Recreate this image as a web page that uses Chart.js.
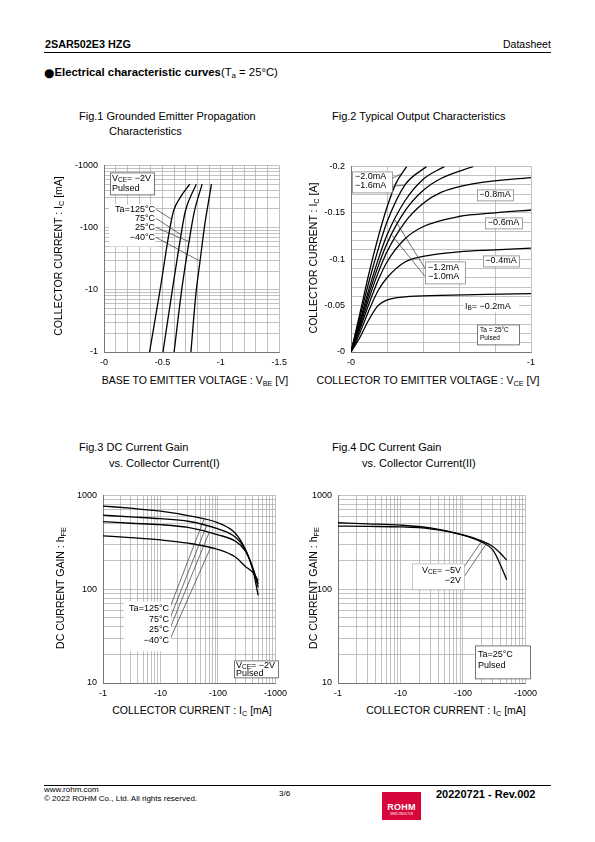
<!DOCTYPE html>
<html>
<head>
<meta charset="utf-8">
<script src="https://cdn.jsdelivr.net/npm/chart.js@4.4.1/dist/chart.umd.min.js"></script>
<style>
  body { margin: 0; background: #fff; font-family: "Liberation Sans", Arial, sans-serif; color: #000; }
  #page { position: relative; width: 595px; height: 842px; overflow: hidden; }
  .t { position: absolute; white-space: nowrap; line-height: 1; }
  .t sub { font-size: 70%; vertical-align: -2px; line-height: 0; }
  .yt { position: absolute; white-space: nowrap; line-height: 1; font-size: 10.5px;
        transform: translate(-50%, -50%) rotate(-90deg); }
  .xt { position: absolute; white-space: nowrap; line-height: 1; font-size: 10.5px; transform: translateX(-50%); }
  .xt sub, .yt sub { font-size: 70%; vertical-align: -2px; line-height: 0; }
  canvas { position: absolute; }
</style>
</head>
<body>
<div id="page">
  <div class="t" style="left:45px;top:39px;font-size:10.8px;font-weight:bold">2SAR502E3 HZG</div>
  <div class="t" style="left:503px;top:39px;font-size:10.5px">Datasheet</div>
  <div style="position:absolute;left:44px;top:52px;width:507px;height:1.2px;background:#000"></div>
  <div class="t" style="left:44px;top:67px;font-size:11.3px"><b><span style="font-family:'DejaVu Sans';font-size:12px;vertical-align:-1px">●</span>Electrical characteristic curves</b>(T<sub>a</sub> = 25°C)</div>

  <div class="t" style="left:79px;top:111px;font-size:11px">Fig.1 Grounded Emitter Propagation</div>
  <div class="t" style="left:109px;top:126px;font-size:11px">Characteristics</div>
  <div class="t" style="left:332px;top:111px;font-size:11px">Fig.2 Typical Output Characteristics</div>
  <div class="t" style="left:79px;top:442px;font-size:11px">Fig.3 DC Current Gain</div>
  <div class="t" style="left:109px;top:458px;font-size:11px">vs. Collector Current(I)</div>
  <div class="t" style="left:332px;top:442px;font-size:11px">Fig.4 DC Current Gain</div>
  <div class="t" style="left:362px;top:458px;font-size:11px">vs. Collector Current(II)</div>

  <canvas id="c1" width="252" height="220" style="left:40px;top:154px"></canvas>
  <canvas id="c2" width="241" height="219" style="left:300px;top:155px"></canvas>
  <canvas id="c3" width="252" height="220" style="left:40px;top:484px"></canvas>
  <canvas id="c4" width="247" height="220" style="left:295px;top:484px"></canvas>

  <div class="xt" style="left:195px;top:375px">BASE TO EMITTER VOLTAGE : V<sub>BE</sub> [V]</div>
  <div class="xt" style="left:428px;top:375px">COLLECTOR TO EMITTER VOLTAGE : V<sub>CE</sub> [V]</div>
  <div class="xt" style="left:192px;top:705px">COLLECTOR CURRENT : I<sub>C</sub> [mA]</div>
  <div class="xt" style="left:446px;top:705px">COLLECTOR CURRENT : I<sub>C</sub> [mA]</div>
  <div class="yt" style="left:58px;top:256px">COLLECTOR CURRENT : I<sub>C</sub> [mA]</div>
  <div class="yt" style="left:313px;top:258px">COLLECTOR CURRENT : I<sub>C</sub> [A]</div>
  <div class="yt" style="left:60px;top:588px">DC CURRENT GAIN : h<sub>FE</sub></div>
  <div class="yt" style="left:313px;top:588px">DC CURRENT GAIN : h<sub>FE</sub></div>

  <div style="position:absolute;left:44px;top:785px;width:507px;height:1px;background:#000"></div>
  <div class="t" style="left:44px;top:786px;font-size:8px">www.rohm.com</div>
  <div class="t" style="left:44px;top:795px;font-size:8px">© 2022 ROHM Co., Ltd. All rights reserved.</div>
  <div class="t" style="left:279px;top:790px;font-size:8px">3/6</div>
  <div style="position:absolute;left:382px;top:792px;width:39px;height:28px;background:#d7063b">
    <div class="t" style="left:0;width:39px;text-align:center;top:11px;font-size:9px;font-weight:bold;color:#fff;letter-spacing:0.3px">ROHM</div>
    <div class="t" style="left:0;width:39px;text-align:center;top:22px;font-size:2.6px;color:#fff">SEMICONDUCTOR</div>
  </div>
  <div class="t" style="left:436px;top:789px;font-size:11px;font-weight:bold">20220721 - Rev.002</div>
</div>

<script>
// ---- Fig.1 : Ic vs VBE (Vce = -2V), magnitudes
const vbe125 = [0.39, 0.48, 0.565, 0.595, 0.66, 0.735];
const icV125 = [1, 10, 100, 185, 320, 500];
const vbe75 = [0.505, 0.585, 0.65, 0.695, 0.79];
const icV75 = [1, 10, 60, 180, 500];
const vbe25 = [0.60, 0.665, 0.725, 0.77, 0.84];
const icV25 = [1, 10, 55, 170, 500];
const vbeM40 = [0.744, 0.785, 0.82, 0.865, 0.9, 0.92];
const icVM40 = [1, 8, 27, 120, 300, 500];

// ---- Fig.2 : Ic vs Vce for several Ib
const vce02 = [0, 0.05, 0.1, 0.15, 0.2, 0.3, 0.5, 0.75, 1];
const ic02 = [0, 0.016, 0.035, 0.05, 0.056, 0.0595, 0.061, 0.062, 0.0628];
const vce04 = [0, 0.05, 0.1, 0.15, 0.2, 0.3, 0.4, 0.6, 0.8, 1];
const ic04 = [0, 0.021, 0.045, 0.066, 0.08, 0.097, 0.103, 0.108, 0.11, 0.112];
const vce06 = [0, 0.05, 0.1, 0.15, 0.2, 0.3, 0.4, 0.6, 0.8, 1];
const ic06 = [0, 0.025, 0.052, 0.077, 0.097, 0.122, 0.135, 0.146, 0.15, 0.153];
const vce08 = [0, 0.05, 0.1, 0.15, 0.2, 0.3, 0.4, 0.5, 0.7, 1];
const ic08 = [0, 0.028, 0.058, 0.085, 0.108, 0.14, 0.16, 0.172, 0.182, 0.188];
const vce10 = [0, 0.05, 0.1, 0.15, 0.2, 0.3, 0.4, 0.5, 0.68];
const ic10 = [0, 0.031, 0.063, 0.092, 0.117, 0.152, 0.174, 0.187, 0.2];
const vce12 = [0, 0.05, 0.1, 0.15, 0.2, 0.3, 0.4, 0.52];
const ic12 = [0, 0.034, 0.068, 0.099, 0.126, 0.163, 0.186, 0.2];
const vce16 = [0, 0.05, 0.1, 0.15, 0.2, 0.3, 0.42];
const ic16 = [0, 0.038, 0.076, 0.11, 0.14, 0.18, 0.2];
const vce20 = [0, 0.05, 0.1, 0.15, 0.2, 0.25, 0.31];
const ic20 = [0, 0.042, 0.085, 0.123, 0.156, 0.182, 0.2];

// ---- Fig.3 : hFE vs Ic (Vce = -2V), by temperature
const icGain = [1, 3, 10, 30, 100, 200, 300, 400, 500];
const hfe125 = [770, 730, 680, 610, 510, 395, 265, 165, 86];
const hfe75 = [615, 590, 565, 530, 440, 360, 265, 168, 105];
const hfe25 = [525, 505, 487, 455, 380, 325, 255, 172, 114];
const hfeM40 = [370, 355, 335, 310, 265, 220, 175, 152, 124];

// ---- Fig.4 : hFE vs Ic (Ta = 25C), by Vce
const icGain2 = [1, 3, 10, 30, 100, 200, 300, 400, 500];
const hfeV5 = [511, 498, 482, 450, 380, 327, 285, 240, 204];
const hfeV2 = [471, 467, 462, 440, 378, 318, 262, 180, 126];

// ---- tick labels
const fig1XLabels = [0, 0.5, 1, 1.5];
const fig2XLabels = [0, 1];
const fig2YLabels = [0, 0.05, 0.1, 0.15, 0.2];

const FONT = "'Liberation Sans', Arial, sans-serif";
const pts = (xs, ys) => xs.map((x, i) => ({ x, y: ys[i] }));
const near = (v, list) => list.some(l => Math.abs(v - l) < 1e-6);

function logTicks(e0, e1) {
  const out = [];
  for (let e = e0; e < e1; e++) for (let m = 1; m < 10; m++) out.push(m * Math.pow(10, e));
  out.push(Math.pow(10, e1));
  return out;
}
const isDecade = v => Math.abs(Math.log10(v) - Math.round(Math.log10(v))) < 1e-9;

function line(data) {
  return { data, borderColor: '#000', borderWidth: 1.3, pointRadius: 0, fill: false,
           cubicInterpolationMode: 'monotone' };
}

function richText(ctx, txt, x, y, size, align) {
  const parts = [];
  txt.split(/(_\{[^}]*\})/).forEach(p => {
    if (!p) return;
    if (p.startsWith('_{')) parts.push({ t: p.slice(2, -1), sub: true });
    else parts.push({ t: p, sub: false });
  });
  let w = 0;
  parts.forEach(p => { ctx.font = (p.sub ? size * 0.72 : size) + 'px ' + FONT; p.w = ctx.measureText(p.t).width; w += p.w; });
  let cx = align === 'right' ? x - w : align === 'center' ? x - w / 2 : x;
  ctx.fillStyle = '#000';
  ctx.textBaseline = 'middle';
  ctx.textAlign = 'left';
  parts.forEach(p => {
    ctx.font = (p.sub ? size * 0.72 : size) + 'px ' + FONT;
    ctx.fillText(p.t, cx, p.sub ? y + size * 0.25 : y);
    cx += p.w;
  });
}

function pointOn(chart, ds, xv) {
  const px = chart.scales.x.getPixelForValue(xv);
  const el = chart.getDatasetMeta(ds).data;
  for (let i = 1; i < el.length; i++) {
    const a = el[i - 1], b = el[i];
    if (px >= a.x && px <= b.x) {
      const f = b.x === a.x ? 0 : (px - a.x) / (b.x - a.x);
      return { x: px, y: a.y + f * (b.y - a.y) };
    }
  }
  return { x: px, y: el[el.length - 1].y };
}

// boxes in px from the plot area corner, text in px from the box corner
function callouts(id, items) {
  return {
    id,
    afterDatasetsDraw(chart) {
      const ctx = chart.ctx, A = chart.chartArea;
      ctx.save();
      items.forEach(it => {
        (it.leaders || []).forEach(l => {
          const p = pointOn(chart, l.ds, l.x);
          ctx.beginPath();
          ctx.moveTo(A.left + l.from[0], A.top + l.from[1]);
          ctx.lineTo(p.x, p.y);
          ctx.strokeStyle = '#333';
          ctx.lineWidth = 0.7;
          ctx.stroke();
        });
        const [bx, by, bw, bh] = it.box;
        const X = A.left + bx, Y = A.top + by;
        ctx.fillStyle = '#fff';
        ctx.fillRect(X, Y, bw, bh);
        if (it.border) {
          ctx.strokeStyle = it.border;
          ctx.lineWidth = 0.8;
          ctx.strokeRect(X + 0.5, Y + 0.5, bw, bh);
        }
        it.lines.forEach(([txt, x, y]) => richText(ctx, txt, X + x, Y + y, it.size || 9, it.align || 'left'));
      });
      ctx.restore();
    }
  };
}

function axis(opts) {
  return Object.assign({
    border: { display: true, color: '#777', width: 1 },
    grid: { color: '#a6a6a6', lineWidth: 0.7, drawTicks: false },
  }, opts);
}

function makeChart(id, datasets, xScale, yScale, pad, plugin) {
  return new Chart(document.getElementById(id), {
    type: 'line',
    data: { datasets },
    options: {
      responsive: false, animation: false, devicePixelRatio: 1,
      layout: { padding: pad },
      plugins: { legend: { display: false }, tooltip: { enabled: false } },
      scales: { x: xScale, y: yScale }
    },
    plugins: [plugin]
  });
}

const tickFont = { family: FONT, size: 9 };

// Fig.1
makeChart('c1', [
  line(pts(vbe125, icV125)), line(pts(vbe75, icV75)), line(pts(vbe25, icV25)), line(pts(vbeM40, icVM40))
], axis({
  type: 'linear', min: 0, max: 1.5,
  ticks: { stepSize: 0.1, autoSkip: false, maxRotation: 0, padding: 5, font: tickFont, color: '#000',
           callback: v => near(v, fig1XLabels) ? '-' + (Math.round(v * 10) / 10) : '' },
  afterFit: s => { s.height = 22; }
}), axis({
  type: 'logarithmic', min: 1, max: 1000,
  afterBuildTicks: s => { s.ticks = logTicks(0, 3).map(v => ({ value: v })); },
  ticks: { autoSkip: false, padding: 6, font: tickFont, color: '#000',
           callback: v => isDecade(v) ? '-' + v : '' },
  afterFit: s => { s.width = 64; }
}), { top: 10, right: 10 }, callouts('co1', [
  { box: [6, 7, 44, 22], border: '#555', lines: [['V_{CE}= −2V', 2, 6], ['Pulsed', 2, 16]] },
  { box: [5, 39, 46, 42],
    leaders: [{ from: [52, 44], ds: 0, x: 0.58 }, { from: [52, 53], ds: 1, x: 0.66 },
              { from: [52, 62], ds: 2, x: 0.728 }, { from: [52, 72], ds: 3, x: 0.822 }],
    align: 'right', lines: [['Ta=125°C', 46, 5], ['75°C', 46, 14], ['25°C', 46, 23], ['−40°C', 46, 33]] }
]));

// Fig.2
makeChart('c2', [
  line(pts(vce02, ic02)), line(pts(vce04, ic04)), line(pts(vce06, ic06)), line(pts(vce08, ic08)),
  line(pts(vce10, ic10)), line(pts(vce12, ic12)), line(pts(vce16, ic16)), line(pts(vce20, ic20))
], axis({
  type: 'linear', min: 0, max: 1,
  ticks: { stepSize: 0.2, autoSkip: false, maxRotation: 0, padding: 5, font: tickFont, color: '#000',
           callback: v => near(v, fig2XLabels) ? '-' + Math.round(v) : '' },
  afterFit: s => { s.height = 22; }
}), axis({
  type: 'linear', min: 0, max: 0.2,
  ticks: { stepSize: 0.01, autoSkip: false, padding: 6, font: tickFont, color: '#000',
           callback: v => near(v, fig2YLabels) ? '-' + (Math.round(v * 100) / 100) : '' },
  afterFit: s => { s.width = 51; }
}), { top: 10, right: 10 }, callouts('co2', [
  { box: [1, 5, 40, 21], border: '#888',
    leaders: [{ from: [41, 12], ds: 7, x: 0.285 }, { from: [41, 20], ds: 6, x: 0.3 }],
    lines: [['−2.0mA', 3, 5], ['−1.6mA', 3, 14.5]] },
  { box: [126, 23, 36, 11], border: '#888', align: 'center', lines: [['−0.8mA', 18, 5.5]] },
  { box: [134, 51, 37, 11], border: '#888', align: 'center', lines: [['−0.6mA', 18.5, 5.5]] },
  { box: [74, 95, 40, 22], border: '#888',
    leaders: [{ from: [74, 102], ds: 5, x: 0.244 }, { from: [74, 110], ds: 4, x: 0.226 }],
    lines: [['−1.2mA', 3, 6.5], ['−1.0mA', 3, 15.5]] },
  { box: [132, 89, 36, 11], border: '#888', align: 'center', lines: [['−0.4mA', 18, 5.5]] },
  { box: [112, 134, 56, 12], lines: [['I_{B}= −0.2mA', 2, 6]] },
  { box: [126, 158, 42, 20], border: '#555', size: 6.5, lines: [['Ta = 25°C', 3, 5.5], ['Pulsed', 3, 14]] }
]));

// Fig.3
makeChart('c3', [
  line(pts(icGain, hfe125)), line(pts(icGain, hfe75)), line(pts(icGain, hfe25)), line(pts(icGain, hfeM40))
], axis({
  type: 'logarithmic', min: 1, max: 1000,
  afterBuildTicks: s => { s.ticks = logTicks(0, 3).map(v => ({ value: v })); },
  ticks: { autoSkip: false, maxRotation: 0, padding: 5, font: tickFont, color: '#000',
           callback: v => isDecade(v) ? '-' + v : '' },
  afterFit: s => { s.height = 21; }
}), axis({
  type: 'logarithmic', min: 10, max: 1000,
  afterBuildTicks: s => { s.ticks = logTicks(1, 3).map(v => ({ value: v })); },
  ticks: { autoSkip: false, padding: 6, font: tickFont, color: '#000',
           callback: v => isDecade(v) ? String(v) : '' },
  afterFit: s => { s.width = 63; }
}), { top: 10, right: 10 }, callouts('co3', [
  { box: [21, 106, 47, 50],
    leaders: [{ from: [67, 112], ds: 0, x: 57 }, { from: [67, 123], ds: 1, x: 63 },
              { from: [67, 133], ds: 2, x: 70 }, { from: [67, 144], ds: 3, x: 74 }],
    align: 'right', lines: [['Ta=125°C', 45, 7], ['75°C', 45, 18], ['25°C', 45, 28], ['−40°C', 45, 39]] },
  { box: [131, 165, 44, 17], border: '#555', lines: [['V_{CE}= −2V', 2, 5], ['Pulsed', 2, 13]] }
]));

// Fig.4
makeChart('c4', [
  line(pts(icGain2, hfeV5)), line(pts(icGain2, hfeV2))
], axis({
  type: 'logarithmic', min: 1, max: 1000,
  afterBuildTicks: s => { s.ticks = logTicks(0, 3).map(v => ({ value: v })); },
  ticks: { autoSkip: false, maxRotation: 0, padding: 5, font: tickFont, color: '#000',
           callback: v => isDecade(v) ? '-' + v : '' },
  afterFit: s => { s.height = 21; }
}), axis({
  type: 'logarithmic', min: 10, max: 1000,
  afterBuildTicks: s => { s.ticks = logTicks(1, 3).map(v => ({ value: v })); },
  ticks: { autoSkip: false, padding: 6, font: tickFont, color: '#000',
           callback: v => isDecade(v) ? String(v) : '' },
  afterFit: s => { s.width = 43; }
}), { top: 10, right: 10 }, callouts('co4', [
  { box: [74, 68, 52, 26], border: '#bbb',
    leaders: [{ from: [125, 73], ds: 0, x: 200 }, { from: [125, 83], ds: 1, x: 230 }],
    align: 'right', lines: [['V_{CE}= −5V', 49, 7], ['−2V', 49, 17]] },
  { box: [137, 150, 55, 33], border: '#555', lines: [['Ta=25°C', 3, 9], ['Pulsed', 3, 20]] }
]));
</script>
</body>
</html>
